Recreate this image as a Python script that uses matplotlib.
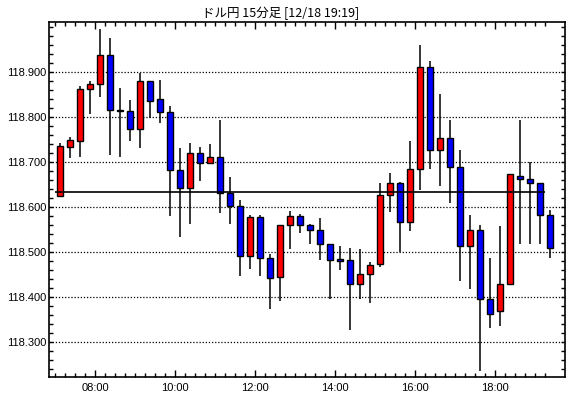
import matplotlib
matplotlib.use("Agg")
import matplotlib.pyplot as plt
from matplotlib.ticker import MultipleLocator, FixedLocator, FuncFormatter
import numpy as np

title = "ドル円 15分足 [12/18 19:19]"
start_hour = 7.0          # first candle 07:00, 15-minute bars
bar_hours = 0.25
ref_price = 118.633       # horizontal reference line
price_levels = [118.3, 118.4, 118.5, 118.6, 118.7, 118.8, 118.9]
hour_labels = [8, 10, 12, 14, 16, 18]

opens = [118.625, 118.735, 118.748, 118.864, 118.873, 118.938, 118.816, 118.814, 118.773, 118.881,
         118.840, 118.811, 118.682, 118.642, 118.720, 118.698, 118.712, 118.632, 118.602, 118.491,
         118.578, 118.487, 118.446, 118.560, 118.581, 118.561, 118.549, 118.518, 118.485, 118.482,
         118.430, 118.451, 118.473, 118.627, 118.653, 118.568, 118.685, 118.911, 118.727, 118.753,
         118.689, 118.513, 118.549, 118.396, 118.369, 118.429, 118.669, 118.662, 118.653, 118.582]
closes = [118.736, 118.750, 118.864, 118.873, 118.938, 118.816, 118.814, 118.773, 118.881, 118.836,
          118.811, 118.682, 118.642, 118.720, 118.698, 118.712, 118.631, 118.602, 118.491, 118.578,
          118.487, 118.444, 118.561, 118.581, 118.560, 118.549, 118.518, 118.482, 118.480, 118.430,
          118.451, 118.471, 118.627, 118.653, 118.568, 118.685, 118.911, 118.727, 118.753, 118.689,
          118.513, 118.549, 118.396, 118.362, 118.429, 118.673, 118.662, 118.653, 118.582, 118.509]
highs = [118.742, 118.756, 118.870, 118.881, 118.996, 118.977, 118.866, 118.838, 118.898, 118.881,
         118.883, 118.825, 118.732, 118.744, 118.735, 118.741, 118.794, 118.668, 118.616, 118.583,
         118.583, 118.496, 118.561, 118.592, 118.586, 118.564, 118.577, 118.518, 118.514, 118.510,
         118.507, 118.478, 118.654, 118.676, 118.656, 118.747, 118.961, 118.925, 118.852, 118.794,
         118.727, 118.583, 118.561, 118.487, 118.558, 118.673, 118.794, 118.700, 118.653, 118.594]
lows = [118.622, 118.709, 118.712, 118.807, 118.846, 118.716, 118.712, 118.748, 118.732, 118.799,
        118.788, 118.581, 118.535, 118.564, 118.659, 118.698, 118.588, 118.564, 118.448, 118.463,
        118.448, 118.375, 118.392, 118.508, 118.542, 118.518, 118.483, 118.396, 118.461, 118.327,
        118.396, 118.387, 118.468, 118.590, 118.500, 118.548, 118.639, 118.686, 118.647, 118.609,
        118.437, 118.419, 118.237, 118.332, 118.337, 118.427, 118.518, 118.518, 118.518, 118.488]

n = len(opens)
starts = start_hour + bar_hours * np.arange(n)
centers = starts + bar_hours / 2

fig = plt.figure(figsize=(5.70, 3.98), dpi=100)
ax = fig.add_axes([49/570, 1 - 377/398, (565 - 49)/570, (377 - 22)/398])

o = np.array(opens); c = np.array(closes)
colors = ['#ff0000' if cc >= oo else '#0000ff' for oo, cc in zip(o, c)]
bottoms = np.minimum(o, c)
heights = np.maximum(np.abs(c - o), 0.0015)

ax.vlines(centers, lows, highs, color='black', linewidth=1.1, zorder=2)
ax.bar(centers, heights, bottom=bottoms, width=0.15, color=colors,
       edgecolor='black', linewidth=1.0, zorder=3)

ax.hlines(ref_price, starts[0], starts[-1], color='black', linewidth=1.2, zorder=4)

for g in price_levels:
    ax.axhline(g, color='black', linewidth=0.9, linestyle=(0, (1, 1.5)), zorder=1)

ax.set_xlim(6.8425, 19.7425)
ax.set_ylim(118.2229, 119.0118)

ax.yaxis.set_major_locator(FixedLocator(price_levels))
ax.yaxis.set_minor_locator(MultipleLocator(0.02))
ax.yaxis.set_major_formatter(FuncFormatter(lambda v, p: f"{v:.3f}"))

ax.xaxis.set_major_locator(FixedLocator(hour_labels))
ax.xaxis.set_minor_locator(FixedLocator(starts))
ax.xaxis.set_major_formatter(FuncFormatter(lambda v, p: f"{int(round(v)):02d}:00"))

ax.tick_params(axis='both', which='both', direction='in', top=True, right=True,
               labelsize=8, colors='black', width=1.0)
ax.tick_params(axis='x', which='major', length=5, pad=4)
ax.tick_params(axis='x', which='minor', length=3)
ax.tick_params(axis='y', which='major', length=3, pad=2)
ax.tick_params(axis='y', which='minor', length=3)

for lab in ax.get_xticklabels() + ax.get_yticklabels():
    lab.set_family(['Liberation Sans', 'DejaVu Sans'])

for s in ax.spines.values():
    s.set_linewidth(1.2)
    s.set_color('black')

fig.text(0.493, 1 - 13/398, title, ha='center', va='center', fontsize=9,
         family=['Noto Sans CJK JP', 'DejaVu Sans'])

fig.savefig("out.png", dpi=100, facecolor='white')
